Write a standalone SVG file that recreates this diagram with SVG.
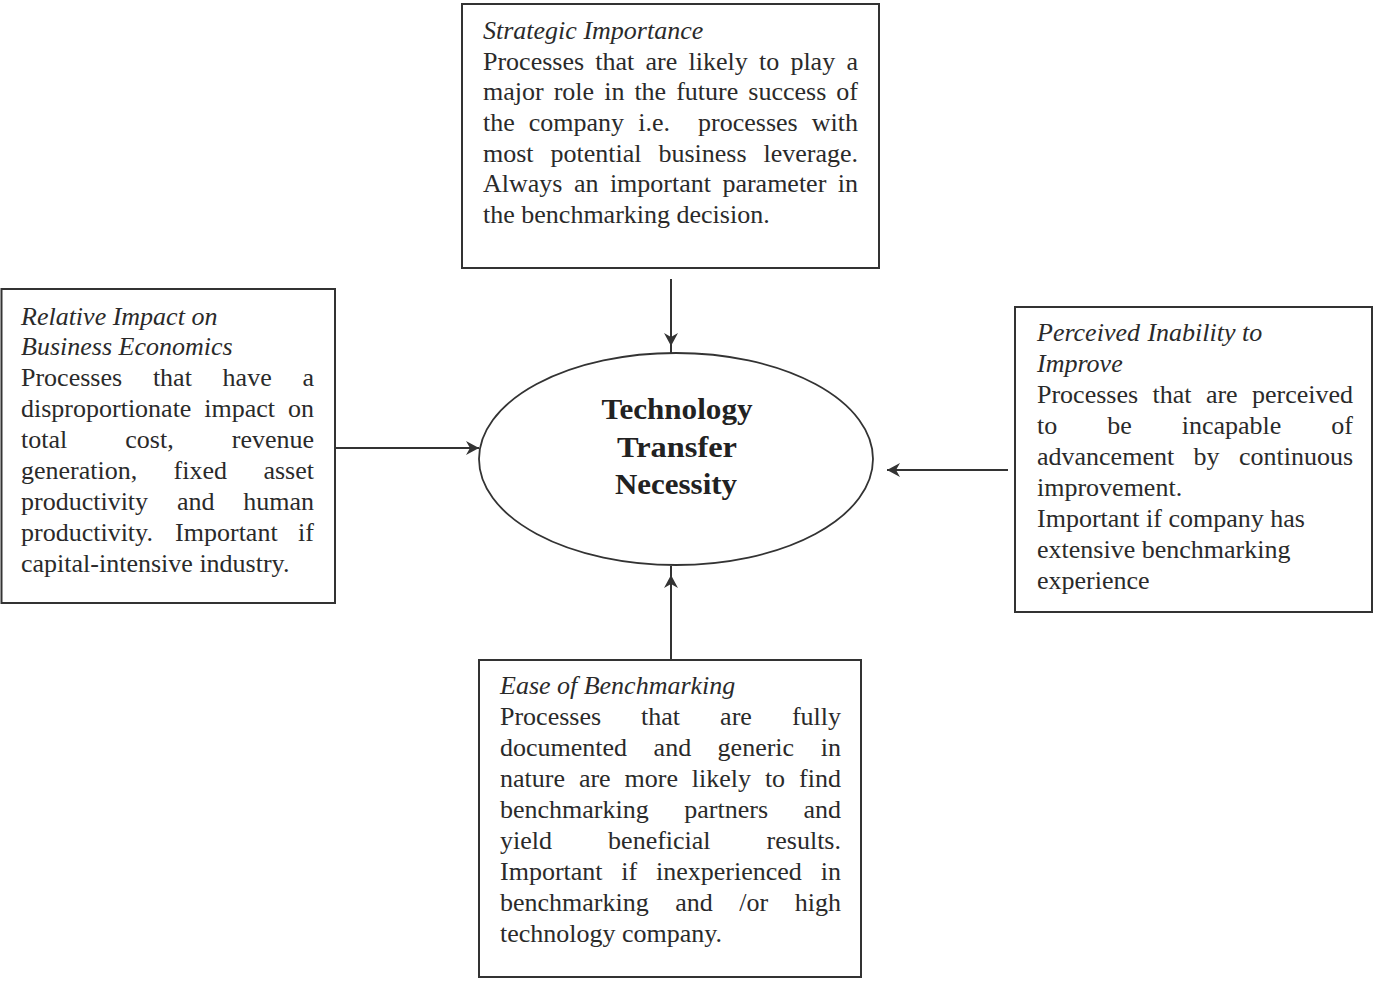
<svg xmlns="http://www.w3.org/2000/svg" width="1373" height="982" viewBox="0 0 1373 982">
<style>
.box{fill:#fff;stroke:#333;stroke-width:2}
.t{font-family:"Liberation Serif","Times New Roman",serif;font-size:26px;fill:#2a2a2a}
.i{font-style:italic}
.e{text-anchor:end}
.c{font-family:"Liberation Serif","Times New Roman",serif;font-size:29px;font-weight:bold;fill:#222;text-anchor:middle}
.ln{fill:none;stroke:#333;stroke-width:2}
</style>
<defs>
<marker id="ah" markerUnits="userSpaceOnUse" markerWidth="16" markerHeight="16" refX="13" refY="7" orient="auto">
<path d="M0,0 L13,7 L0,14 L4,7 z" fill="#333"/>
</marker>
</defs>
<rect width="1373" height="982" fill="#fff"/>

<g id="connectors">
<path class="ln" d="M671,279 V346" marker-end="url(#ah)"/>
<path class="ln" d="M671,346 V353"/>
<path class="ln" d="M336,448 H479" marker-end="url(#ah)"/>
<path class="ln" d="M1008,470 H887" marker-end="url(#ah)"/>
<path class="ln" d="M671,659 V575" marker-end="url(#ah)"/>
<path class="ln" d="M671,575 V566"/>
</g>

<g id="center">
<ellipse cx="676" cy="459" rx="197" ry="106" fill="#fff" stroke="#333" stroke-width="1.8"/>
<text class="c" x="677" y="419" textLength="151" lengthAdjust="spacingAndGlyphs">Technology</text>
<text class="c" x="677" y="457" textLength="120" lengthAdjust="spacingAndGlyphs">Transfer</text>
<text class="c" x="676" y="494" textLength="122" lengthAdjust="spacingAndGlyphs">Necessity</text>
</g>

<g id="strategic">
<rect class="box" x="462" y="4" width="417" height="264"/>
<text class="t i" y="39"><tspan x="483">Strategic</tspan><tspan x="583.4">Importance</tspan></text>
<text class="t" y="70"><tspan x="483">Processes</tspan><tspan x="595.3">that</tspan><tspan x="645.5">are</tspan><tspan x="688.5">likely</tspan><tspan x="759">to</tspan><tspan x="790.4">play</tspan><tspan x="858" class="e">a</tspan></text>
<text class="t" y="100"><tspan x="483">major</tspan><tspan x="553.7">role</tspan><tspan x="604.2">in</tspan><tspan x="634.4">the</tspan><tspan x="676.2">future</tspan><tspan x="748.3">success</tspan><tspan x="858" class="e">of</tspan></text>
<text class="t" y="131"><tspan x="483">the</tspan><tspan x="528.8">company</tspan><tspan x="638.2">i.e.</tspan><tspan x="698.1">processes</tspan><tspan x="858" class="e">with</tspan></text>
<text class="t" y="162"><tspan x="483">most</tspan><tspan x="550.5">potential</tspan><tspan x="658.4">business</tspan><tspan x="858" class="e">leverage.</tspan></text>
<text class="t" y="192"><tspan x="483">Always</tspan><tspan x="573.9">an</tspan><tspan x="609.9">important</tspan><tspan x="722.4">parameter</tspan><tspan x="858" class="e">in</tspan></text>
<text class="t" y="223"><tspan x="483">the</tspan><tspan x="521.3">benchmarking</tspan><tspan x="676.5">decision.</tspan></text>
</g>

<g id="relative">
<rect class="box" x="1.5" y="289" width="333.5" height="314"/>
<text class="t i" y="325"><tspan x="21">Relative</tspan><tspan x="112.7">Impact</tspan><tspan x="191.4">on</tspan></text>
<text class="t i" y="355"><tspan x="21">Business</tspan><tspan x="118.5">Economics</tspan></text>
<text class="t" y="386"><tspan x="21">Processes</tspan><tspan x="152.9">that</tspan><tspan x="222.6">have</tspan><tspan x="314" class="e">a</tspan></text>
<text class="t" y="417"><tspan x="21">disproportionate</tspan><tspan x="204.3">impact</tspan><tspan x="314" class="e">on</tspan></text>
<text class="t" y="448"><tspan x="21">total</tspan><tspan x="125.3">cost,</tspan><tspan x="314" class="e">revenue</tspan></text>
<text class="t" y="479"><tspan x="21">generation,</tspan><tspan x="173.6">fixed</tspan><tspan x="314" class="e">asset</tspan></text>
<text class="t" y="510"><tspan x="21">productivity</tspan><tspan x="176.9">and</tspan><tspan x="314" class="e">human</tspan></text>
<text class="t" y="541"><tspan x="21">productivity.</tspan><tspan x="175.1">Important</tspan><tspan x="314" class="e">if</tspan></text>
<text class="t" y="572"><tspan x="21">capital-intensive</tspan><tspan x="199.4">industry.</tspan></text>
</g>

<g id="perceived">
<rect class="box" x="1015" y="307" width="357" height="305"/>
<text class="t i" y="341"><tspan x="1037">Perceived</tspan><tspan x="1147.4">Inability</tspan><tspan x="1242">to</tspan></text>
<text class="t i" x="1037" y="372">Improve</text>
<text class="t" y="403"><tspan x="1037">Processes</tspan><tspan x="1152.5">that</tspan><tspan x="1205.9">are</tspan><tspan x="1353" class="e">perceived</tspan></text>
<text class="t" y="434"><tspan x="1037">to</tspan><tspan x="1107.2">be</tspan><tspan x="1181.7">incapable</tspan><tspan x="1353" class="e">of</tspan></text>
<text class="t" y="465"><tspan x="1037">advancement</tspan><tspan x="1193.5">by</tspan><tspan x="1353" class="e">continuous</tspan></text>
<text class="t" x="1037" y="496">improvement.</text>
<text class="t" y="527"><tspan x="1037">Important</tspan><tspan x="1146">if</tspan><tspan x="1168.4">company</tspan><tspan x="1270.2">has</tspan></text>
<text class="t" y="558"><tspan x="1037">extensive</tspan><tspan x="1141.7">benchmarking</tspan></text>
<text class="t" x="1037" y="589">experience</text>
</g>

<g id="ease">
<rect class="box" x="479" y="660" width="382" height="317"/>
<text class="t i" y="694"><tspan x="500">Ease</tspan><tspan x="557">of</tspan><tspan x="583.7">Benchmarking</tspan></text>
<text class="t" y="725"><tspan x="500">Processes</tspan><tspan x="641.1">that</tspan><tspan x="720.1">are</tspan><tspan x="841" class="e">fully</tspan></text>
<text class="t" y="756"><tspan x="500">documented</tspan><tspan x="653.6">and</tspan><tspan x="717.6">generic</tspan><tspan x="841" class="e">in</tspan></text>
<text class="t" y="787"><tspan x="500">nature</tspan><tspan x="578.9">are</tspan><tspan x="624.5">more</tspan><tspan x="691.8">likely</tspan><tspan x="764.9">to</tspan><tspan x="841" class="e">find</tspan></text>
<text class="t" y="818"><tspan x="500">benchmarking</tspan><tspan x="684.3">partners</tspan><tspan x="841" class="e">and</tspan></text>
<text class="t" y="849"><tspan x="500">yield</tspan><tspan x="608.1">beneficial</tspan><tspan x="841" class="e">results.</tspan></text>
<text class="t" y="880"><tspan x="500">Important</tspan><tspan x="621.3">if</tspan><tspan x="656">inexperienced</tspan><tspan x="841" class="e">in</tspan></text>
<text class="t" y="911"><tspan x="500">benchmarking</tspan><tspan x="675.3">and</tspan><tspan x="739.3">/or</tspan><tspan x="841" class="e">high</tspan></text>
<text class="t" y="942"><tspan x="500">technology</tspan><tspan x="622">company.</tspan></text>
</g>
</svg>
